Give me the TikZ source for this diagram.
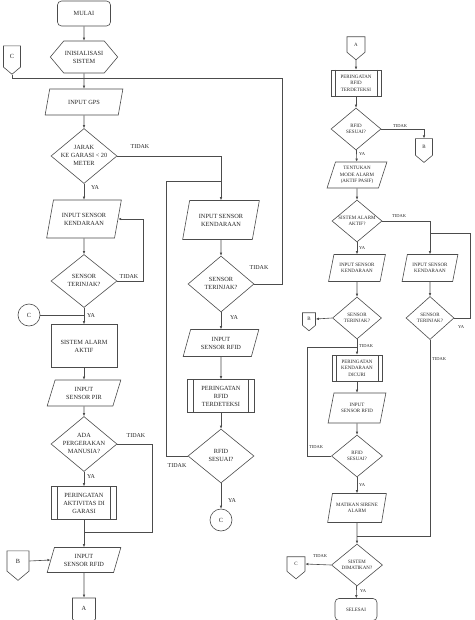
\documentclass[tikz,border=0pt]{standalone}
\usepackage{fontspec}
\setmainfont{Liberation Serif}
\usetikzlibrary{shapes.geometric,shapes.symbols,arrows.meta}
\newcommand\zt[1]{\makebox[0pt]{\begin{tabular}{@{}c@{}}#1\end{tabular}}}
\tikzset{
  base/.style={draw=black!70, line width=0.6pt, text=black!85, font=\fontsize{6.3}{8}\selectfont, align=center, inner sep=1pt},
  sm/.style={font=\fontsize{5}{6.5}\selectfont},
  termbox/.style={base, rectangle, rounded corners=4pt},
  procbox/.style={base, rectangle},
  iobox/.style={base, trapezium, trapezium left angle=70, trapezium right angle=110, trapezium stretches=true},
  decbox/.style={base, diamond, inner sep=0pt, aspect=1.2},
  prepbox/.style={base, signal, signal to=east and west, signal pointer angle=100},
  offpage/.style={base, signal, signal to=south, signal pointer angle=100, inner sep=0pt},
  conn/.style={base, circle, inner sep=0pt},
  predef/.style={base, rectangle, path picture={
    \draw[black!70, line width=0.6pt] ([xshift=#1]path picture bounding box.north west) -- ([xshift=#1]path picture bounding box.south west);
    \draw[black!70, line width=0.6pt] ([xshift=-#1]path picture bounding box.north east) -- ([xshift=-#1]path picture bounding box.south east);}},
  predef/.default=6pt,
  line/.style={draw=black!70, line width=0.6pt},
  arr/.style={line, -{Latex[length=3pt,width=2.6pt]}},
  lab/.style={font=\fontsize{6}{7}\selectfont, text=black!85, inner sep=0pt},
  slab/.style={font=\fontsize{4.5}{5}\selectfont, text=black!85, inner sep=0pt},
}
\begin{document}
\begin{tikzpicture}[x=1pt,y=-1pt]
\useasboundingbox[fill=white] (0,0) rectangle (474,620);
% ---------------- left column ----------------
\node[termbox, minimum width=53pt, minimum height=25pt] (mulai) at (84,13.5) {MULAI};
\node[prepbox, minimum width=66pt, minimum height=32pt] (init) at (84,57) {INISIALISASI\\SISTEM};
\node[offpage, minimum width=17pt, minimum height=23pt] (c1) at (12,56.5) {C};
\node[iobox, minimum width=78pt, minimum height=26pt] (gps) at (84,102) {INPUT GPS};
\node[decbox, minimum width=66pt, minimum height=55pt] (jarak) at (84,156) {\zt{JARAK\\KE GARASI < 20\\METER}};
\node[iobox, minimum width=75pt, minimum height=38pt] (isk1) at (84,219) {INPUT SENSOR\\KENDARAAN};
\node[decbox, minimum width=66pt, minimum height=53pt] (st1) at (84,281) {\zt{SENSOR\\TERINJAK?}};
\node[conn, minimum size=22pt] (cc1) at (29,315) {C};
\node[procbox, minimum width=66pt, minimum height=43pt] (alarm) at (84,346) {SISTEM ALARM\\AKTIF};
\node[iobox, minimum width=74pt, minimum height=26pt] (pir) at (84,393) {INPUT\\SENSOR PIR};
\node[decbox, minimum width=66pt, minimum height=55pt] (ada) at (84,444) {\zt{ADA\\PERGERAKAN\\MANUSIA?}};
\node[predef, minimum width=65pt, minimum height=33pt] (per1) at (84,503) {PERINGATAN\\AKTIVITAS DI\\GARASI};
\node[iobox, minimum width=74pt, minimum height=25pt] (rfid1) at (84,560) {INPUT\\SENSOR RFID};
\node[offpage, minimum width=22pt, minimum height=22pt] (b1) at (18,561) {B};
\node[offpage, minimum width=23pt, minimum height=23pt] (a1) at (84,608.5) {A};
\coordinate (j1) at (84,78);
\coordinate (r1) at (282,78);
\coordinate (k1) at (143,281);
\coordinate (j2) at (84,315);
\coordinate (k2) at (152,444);
\coordinate (j3) at (84,532);
\draw[arr] (mulai) -- (init);
\draw[arr] (init) -- (gps);
\draw[line] (c1.south) |- (j1);
\draw[arr] (gps) -- (jarak);
\draw[arr] (jarak) -- (isk1);
\draw[arr] (isk1) -- (st1);
\draw[arr] (st1.east) -- (k1) |- (isk1.east);
\draw[arr] (st1) -- (alarm);
\draw[line] (cc1) -- (j2);
\draw[arr] (alarm) -- (pir);
\draw[arr] (pir) -- (ada);
\draw[arr] (ada) -- (per1);
\draw[line] (ada.east) -- (k2) |- (j3);
\draw[arr] (per1) -- (rfid1);
\draw[arr] (b1.east) -- (rfid1.west);
\draw[arr] (rfid1) -- (a1);
\node[lab] (l1) at (140,147) {TIDAK};
\node[lab] (l2) at (95,188) {YA};
\node[lab] (l3) at (129,277) {TIDAK};
\node[lab] (l4) at (91,316) {YA};
\node[lab] (l5) at (136,436) {TIDAK};
\node[lab] (l6) at (91,477) {YA};
% ---------------- middle column ----------------
\node[iobox, minimum width=77pt, minimum height=39pt] (isk2) at (221,220) {INPUT SENSOR\\KENDARAAN};
\node[decbox, minimum width=66pt, minimum height=56pt] (st2) at (221,284) {\zt{SENSOR\\TERINJAK?}};
\node[iobox, minimum width=76pt, minimum height=27pt] (rfid2) at (221,343) {INPUT\\SENSOR RFID};
\node[predef, minimum width=67pt, minimum height=33pt] (per2) at (221,396) {PERINGATAN\\RFID\\TERDETEKSI};
\node[decbox, minimum width=66pt, minimum height=54pt] (rf2) at (221,456) {\zt{RFID\\SESUAI?}};
\node[conn, minimum size=22pt] (cc2) at (221,520) {C};
\coordinate (j4) at (221,181);
\coordinate (k3) at (166,456);
\draw[arr] (jarak.east) -| (isk2.north);
\draw[line] (st2.east) -| (r1) -- (j1);
\draw[arr] (isk2) -- (st2);
\draw[arr] (st2) -- (rfid2);
\draw[arr] (rfid2) -- (per2);
\draw[arr] (per2) -- (rf2);
\draw[line] (rf2.west) -- (k3) |- (j4);
\draw[arr] (rf2) -- (cc2);
\node[lab] (l7) at (259,268) {TIDAK};
\node[lab] (l8) at (234,318) {YA};
\node[lab] (l9) at (177,466) {TIDAK};
\node[lab] (l10) at (232,501) {YA};
% ---------------- right column ----------------
\node[offpage, sm, minimum width=18pt, minimum height=17pt] (a2) at (356,44.5) {A};
\node[predef=4pt, sm, minimum width=50pt, minimum height=26pt] (per3) at (356,83) {PERINGATAN\\RFID\\TERDETEKSI};
\node[decbox, sm, minimum width=50pt, minimum height=42pt] (rf3) at (356,129) {\zt{RFID\\SESUAI?}};
\node[offpage, sm, minimum width=17pt, minimum height=18pt] (b2) at (424,147) {B};
\node[iobox, sm, minimum width=60pt, minimum height=26pt] (mode) at (357,175) {TENTUKAN\\MODE ALARM\\(AKTIF PASIF)};
\node[decbox, sm, minimum width=50pt, minimum height=42pt] (sa) at (357,221) {\zt{SISTEM ALARM\\AKTIF?}};
\node[iobox, sm, minimum width=57pt, minimum height=27pt] (isk3) at (357,268) {INPUT SENSOR\\KENDARAAN};
\node[iobox, sm, minimum width=56pt, minimum height=27pt] (isk4) at (430,268) {INPUT SENSOR\\KENDARAAN};
\node[decbox, sm, minimum width=49pt, minimum height=42pt] (st3) at (357,318) {\zt{SENSOR\\TERINJAK?}};
\node[decbox, sm, minimum width=48pt, minimum height=43pt] (st4) at (430,318) {\zt{SENSOR\\TERINJAK?}};
\node[offpage, sm, minimum width=13pt, minimum height=14pt] (b3) at (309,319) {B};
\node[predef=4pt, sm, minimum width=50pt, minimum height=26pt] (per4) at (357,368) {PERINGATAN\\KENDARAAN\\DICURI};
\node[iobox, sm, minimum width=58pt, minimum height=30pt] (rfid3) at (357,408) {INPUT\\SENSOR RFID};
\node[decbox, sm, minimum width=51pt, minimum height=42pt] (rf4) at (357,456) {\zt{RFID\\SESUAI?}};
\node[iobox, sm, minimum width=59pt, minimum height=29pt] (mati) at (357,508) {MATIKAN SIRENE\\ALARM};
\node[decbox, sm, minimum width=51pt, minimum height=42pt] (sd) at (357,565) {\zt{SISTEM\\DIMATIKAN?}};
\node[offpage, sm, minimum width=18pt, minimum height=16pt] (c3) at (296,564) {C};
\node[termbox, sm, minimum width=42pt, minimum height=22pt] (selesai) at (356,609.5) {SELESAI};
\coordinate (j5) at (430,233);
\coordinate (k4) at (470,318);
\coordinate (j6) at (357,347);
\coordinate (k5) at (307,456);
\coordinate (j7) at (357,536);
\draw[arr] (a2) -- (per3);
\draw[arr] (per3) -- (rf3);
\draw[arr] (rf3.east) -| (b2.north);
\draw[arr] (rf3) -- (mode);
\draw[arr] (mode) -- (sa);
\draw[arr] (sa.east) -| (isk4.north);
\draw[arr] (sa) -- (isk3);
\draw[arr] (isk3) -- (st3);
\draw[arr] (st3.west) -- (b3.east);
\draw[arr] (st3) -- (per4);
\draw[arr] (per4) -- (rfid3);
\draw[arr] (rfid3) -- (rf4);
\draw[line] (rf4.west) -- (k5) |- (j6);
\draw[arr] (rf4) -- (mati);
\draw[arr] (mati) -- (sd);
\draw[arr] (isk4) -- (st4);
\draw[line] (st4.east) -- (k4) |- (j5);
\draw[line] (st4.south) |- (j7);
\draw[arr] (sd.west) -- (c3.east);
\draw[arr] (sd) -- (selesai);
\node[slab] (m1) at (400,126) {TIDAK};
\node[slab] (m2) at (362,154) {YA};
\node[slab] (m3) at (399,216) {TIDAK};
\node[slab] (m4) at (362,248) {YA};
\node[slab] (m5) at (366,346) {TIDAK};
\node[slab] (m6) at (439,359) {TIDAK};
\node[slab] (m7) at (461,327) {YA};
\node[slab] (m8) at (316,447) {TIDAK};
\node[slab] (m9) at (362,485) {YA};
\node[slab] (m10) at (320,556) {TIDAK};
\node[slab] (m11) at (363,591) {YA};
\end{tikzpicture}
\end{document}
